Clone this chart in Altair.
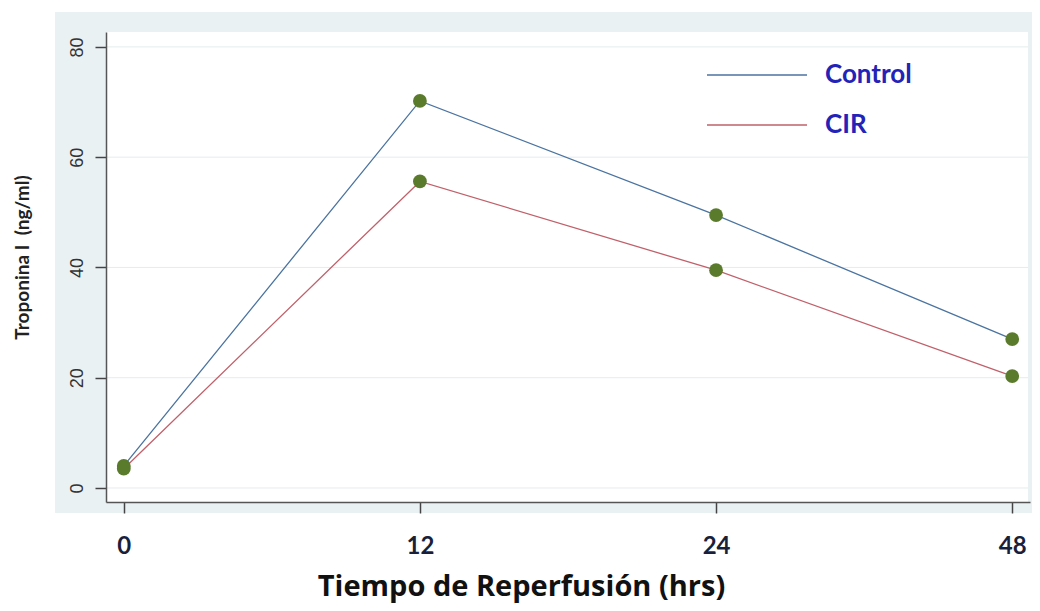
import altair as alt
import pandas as pd

horas = ["0", "12", "24", "48"]
control = [4.0, 70.2, 49.5, 27.0]
cir = [3.5, 55.6, 39.5, 20.3]
series = ["Control", "CIR"]
line_colors = ["#4A73A0", "#C0606A"]
y_ticks = [0, 20, 40, 60, 80]

rows = []
for h, c, r in zip(horas, control, cir):
    rows.append({"hora": h, "serie": "Control", "valor": c})
    rows.append({"hora": h, "serie": "CIR", "valor": r})
df = pd.DataFrame(rows)
grid_df = pd.DataFrame({"valor": y_ticks})

W, H = 924, 470
PANEL = "#EAF1F3"

one = alt.Data(values=[{"a": 1}])

panel = alt.Chart(one).mark_rect(color=PANEL).encode(
    x=alt.value(-51), x2=alt.value(W + 10), y=alt.value(-20), y2=alt.value(H + 11)
)
white = alt.Chart(one).mark_rect(color="white").encode(
    x=alt.value(0), x2=alt.value(W - 2), y=alt.value(0), y2=alt.value(H)
)

xenc = alt.X(
    "hora:O",
    sort=horas,
    scale=alt.Scale(type="point", padding=0.06),
    axis=alt.Axis(
        title="Tiempo de Reperfusión (hrs)",
        labelAngle=0,
        labelFont="Lato",
        labelFontWeight="bold",
        labelFontSize=24,
        labelColor="#1a1f3c",
        labelPadding=21,
        tickSize=11,
        tickColor="#444",
        tickWidth=1.5,
        domainColor="#555",
        domainWidth=1.5,
        grid=False,
        titleFont="Open Sans",
        titleFontWeight="bold",
        titleFontSize=29,
        titleColor="#111",
        titleX=415,
        titleY=93,
        titleAlign="center",
        titleBaseline="alphabetic",
        zindex=1,
    ),
)
yscale = alt.Scale(domain=[-2.54, 82.7], nice=False, zero=False)
yenc = alt.Y(
    "valor:Q",
    scale=yscale,
    axis=alt.Axis(
        title="Troponina I\u00a0 (ng/ml)",
        values=y_ticks,
        labelAngle=270,
        labelAlign="center",
        labelBaseline="bottom",
        labelFont="Liberation Sans",
        labelFontSize=18,
        labelColor="#333",
        labelPadding=9,
        tickSize=11,
        tickColor="#444",
        tickWidth=1.5,
        domainColor="#555",
        domainWidth=1.5,
        grid=False,
        titleFont="Lato",
        titleFontWeight="bold",
        titleFontSize=19,
        titleColor="#222",
        titleX=-84,
        titleY=225,
        titleAngle=270,
        titleAlign="center",
        titleBaseline="middle",
        zindex=1,
    ),
)

grid = alt.Chart(grid_df).mark_rule(color="#E4ECEE", strokeWidth=1).encode(
    y=yenc,
    x=alt.value(0),
    x2=alt.value(W - 2),
)

lines = alt.Chart(df).mark_line(strokeWidth=1.3).encode(
    x=xenc,
    y=yenc,
    color=alt.Color(
        "serie:N",
        scale=alt.Scale(domain=series, range=line_colors),
        sort=series,
        legend=alt.Legend(
            title=None,
            orient="none",
            legendX=638,
            legendY=30,
            symbolType="M-5,0H5",
            symbolSize=400,
            symbolStrokeWidth=1.6,
            labelFont="Lato",
            labelFontWeight="bold",
            labelFontSize=26,
            labelColor="#2323B8",
            labelOffset=55,
            rowPadding=24,
            labelExpr="datum.label == 'CIR' ? '\u00a0CIR' : datum.label",
        ),
    ),
)

points = alt.Chart(df).mark_circle(size=190, color="#5B7B2C", opacity=1).encode(
    x=xenc, y=yenc
)

chart = alt.layer(panel, white, grid, lines, points).properties(
    width=W,
    height=H,
    padding={"left": 98, "top": 24, "right": 2, "bottom": 101},
    autosize=alt.AutoSizeParams(type="none"),
    background="white",
).configure_view(stroke=None, fill=None)

chart.save("out.html", embed_options={"renderer": "svg", "actions": False})
